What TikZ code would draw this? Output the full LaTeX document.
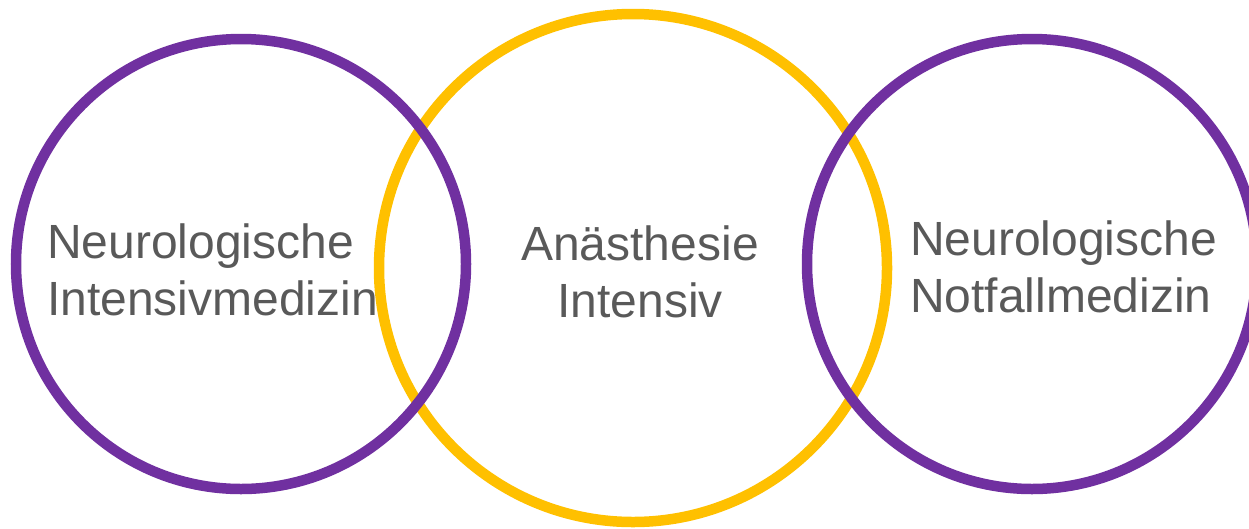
\documentclass[tikz,border=0pt]{standalone}
\usepackage{fontspec}
\setmainfont{Liberation Sans}
\definecolor{ringpurple}{HTML}{7030A0}
\definecolor{ringyellow}{HTML}{FFC000}
\definecolor{labelgray}{HTML}{595959}
\begin{document}
\begin{tikzpicture}[x=1pt,y=-1pt,
  ring/.style={circle,draw,line width=10.5pt,inner sep=0pt,fill=none},
  label/.style={text=labelgray,inner sep=0pt,font=\fontsize{48}{57}\selectfont}]
\useasboundingbox (0,0) rectangle (1249,528);
\node[ring,draw=ringyellow,minimum size=508pt] (mid) at (633,268) {};
\node[ring,draw=ringpurple,minimum size=450pt] (left) at (241,264) {};
\node[ring,draw=ringpurple,minimum size=450pt] (right) at (1032,264) {};
\node[label,align=left,anchor=base west] (lt) at (47,315) {Neurologische\\Intensivmedizin};
\node[label,align=center,anchor=base] (mt) at (640,317) {Anästhesie\\Intensiv};
\node[label,align=left,anchor=base west] (rt) at (910,312) {Neurologische\\Notfallmedizin};
\end{tikzpicture}
\end{document}
